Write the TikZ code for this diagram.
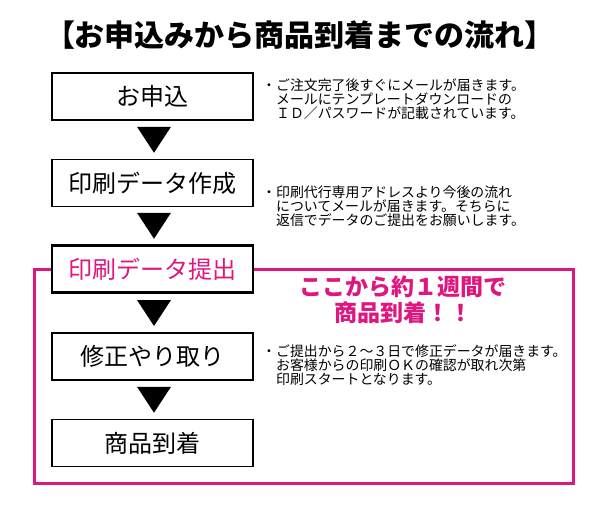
\documentclass[tikz,border=0pt]{standalone}
\usepackage{fontspec}
\setmainfont{Noto Sans CJK JP}
\usetikzlibrary{calc}
\definecolor{pinkc}{RGB}{224,22,128}
\tikzset{
  stepbox/.style={draw, line width=1.4pt, fill=white, minimum width=201pt, minimum height=47pt, inner sep=0pt, font=\fontsize{24}{24}\selectfont},
  keybox/.style={stepbox, line width=2.4pt, text=pinkc},
  notetext/.style={anchor=base west, align=left, inner sep=0pt, font=\fontsize{13.9}{13.6}\selectfont},
  downtri/.pic={\fill (-17,-13) -- (17,-13) -- (0,13) -- cycle;},
  frame/.style={draw=pinkc, line width=3pt}
}
\begin{document}
\begin{tikzpicture}[x=1pt,y=-1pt]
\useasboundingbox (0,0) rectangle (600,520);
\node[font=\bfseries\fontsize{30}{30}\selectfont, inner sep=0pt] (title) at (300,35) {【お申込みから商品到着までの流れ】};
\draw[frame] (34,269) rectangle (573,483);
\node[stepbox] (b1) at (152.5,96.5) {お申込};
\node[stepbox] (b2) at (152.5,183) {印刷データ作成};
\node[keybox] (b3) at (152.5,269) {印刷データ提出};
\node[stepbox] (b4) at (152.5,356.5) {修正やり取り};
\node[stepbox] (b5) at (152.5,443) {商品到着};
\pic at ($(b1.south)!0.5!(b2.north)+(1.5,0)$) {downtri};
\pic at ($(b2.south)!0.5!(b3.north)+(1.5,0)$) {downtri};
\pic at ($(b3.south)!0.5!(b4.north)+(1.5,0)$) {downtri};
\pic at ($(b4.south)!0.5!(b5.north)+(1.5,0)$) {downtri};
\node[notetext] (n1) at (262,118) {・ご注文完了後すぐにメールが届きます。\\\hspace*{1em}メールにテンプレートダウンロードの\\\hspace*{1em}ＩＤ／パスワードが記載されています。};
\node[notetext] (n2) at (262,225) {・印刷代行専用アドレスより今後の流れ\\\hspace*{1em}についてメールが届きます。そちらに\\\hspace*{1em}返信でデータのご提出をお願いします。};
\node[notetext] (n3) at (262,384) {・ご提出から２～３日で修正データが届きます。\\\hspace*{1em}お客様からの印刷ＯＫの確認が取れ次第\\\hspace*{1em}印刷スタートとなります。};
\node[align=center, text=pinkc, inner sep=0pt, font=\bfseries\fontsize{23}{26}\selectfont] (week) at (403,300) {ここから約１週間で\\商品到着！！};
\end{tikzpicture}
\end{document}
